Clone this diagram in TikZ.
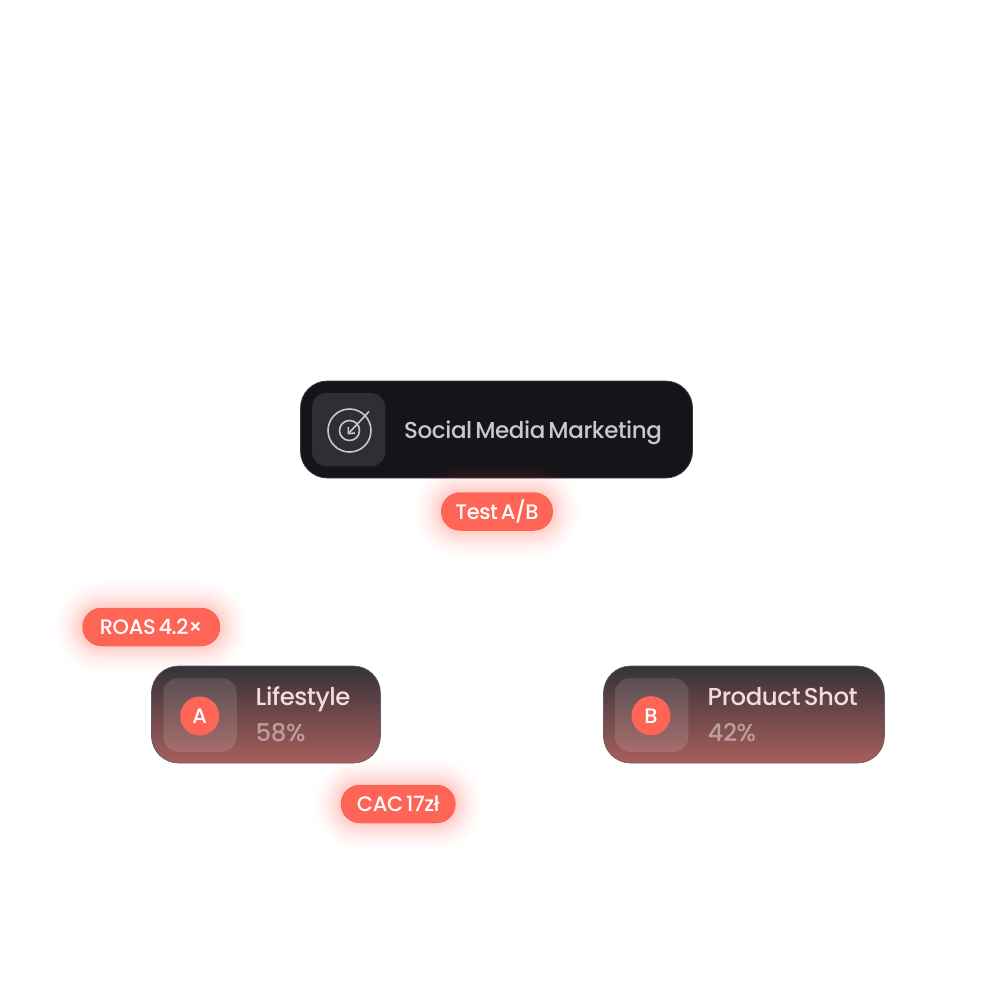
\documentclass[tikz,border=0pt]{standalone}
\usepackage{fontspec}
\setmainfont[UprightFont=* Medium,LetterSpace=-1.8,WordSpace=0.55]{Poppins}
\usepackage{tikz}
\usetikzlibrary{arrows.meta,positioning}
\definecolor{coral}{HTML}{FF6557}
\definecolor{darkcard}{HTML}{151419}
\definecolor{cardedge}{HTML}{3A3A46}
\definecolor{iconbox}{HTML}{302E35}
\definecolor{iconline}{HTML}{C9C8CC}
\definecolor{cardtop}{HTML}{35323A}
\definecolor{cardbottom}{HTML}{A85F5C}
\definecolor{softpink}{HTML}{F4DADA}
\definecolor{softmuted}{HTML}{BC9E9E}
\tikzset{
  pillbox/.style={
    rounded corners=19pt,
    fill=coral,
    text=white,
    minimum height=38.5pt,
    inner sep=0pt,
    font=\fontsize{21}{25}\selectfont,
    preaction={draw=coral,opacity=.012,line width=56pt},
    preaction={draw=coral,opacity=.016,line width=50pt},
    preaction={draw=coral,opacity=.02,line width=44pt},
    preaction={draw=coral,opacity=.026,line width=38pt},
    preaction={draw=coral,opacity=.032,line width=32pt},
    preaction={draw=coral,opacity=.04,line width=26pt},
    preaction={draw=coral,opacity=.05,line width=20pt},
    preaction={draw=coral,opacity=.06,line width=14pt},
    preaction={draw=coral,opacity=.07,line width=8pt}
  },
  gradcard/.style={
    rounded corners=27pt,
    draw=cardtop!80!white,
    line width=.6pt,
    top color=cardtop,
    bottom color=cardbottom,
    minimum height=97pt,
    inner sep=0pt
  },
  iconsquare/.style={
    rounded corners=15pt,
    minimum width=73.5pt,
    minimum height=73.5pt,
    inner sep=0pt
  },
  badgedot/.style={
    circle,
    fill=coral,
    text=white,
    minimum size=39pt,
    inner sep=0pt,
    font=\fontsize{21}{25}\selectfont
  },
  titletext/.style={anchor=base west,inner sep=0pt,font=\fontsize{24.4}{28}\selectfont},
  ringline/.style={circle,draw=iconline,line width=1.6pt,inner sep=0pt}
}
\begin{document}
\begin{tikzpicture}[x=1pt,y=-1pt]
\useasboundingbox (0,0) rectangle (990,990);
% top card
\node[rounded corners=27pt,fill=darkcard,draw=cardedge,line width=.8pt,minimum width=392pt,minimum height=97pt,inner sep=0pt] (social) at (496.5,429.5) {};
\node[iconsquare,fill=iconbox] (socialicon) at (348.7,429.7) {};
\node[ringline,minimum size=43pt] (ringouter) at (349.5,430.5) {};
\node[ringline,minimum size=20pt] (ringinner) at (349.5,430.5) {};
\coordinate (arrowtail) at (369,411.5);
\coordinate (arrowtip) at (347.5,434.5);
\draw[-{Straight Barb[length=5pt,width=9pt]},draw=iconline,line width=1.6pt] (arrowtail) -- (arrowtip);
\node[titletext,text=iconline,font=\fontsize{23}{28}\selectfont] (socialtext) at (404,438.5) {Social Media Marketing};
% pills
\node[pillbox,minimum width=112pt] (testab) at (497,511.5) {Test A/B};
\node[pillbox,minimum width=138pt] (roas) at (151.3,627) {ROAS 4.2×};
\node[pillbox,minimum width=115pt] (cac) at (398.2,804) {CAC 17zł};
% variant A
\node[gradcard,minimum width=229pt] (cardA) at (266,714.5) {};
\node[iconsquare,fill=white,fill opacity=.12] (iconA) at (200,715) {};
\node[badgedot] (dotA) at (199.7,716) {A};
\node[titletext,text=softpink] (nameA) at (255.5,705.5) {Lifestyle};
\node[titletext,text=softmuted] (shareA) at (255.5,741) {58\%};
% variant B
\node[gradcard,minimum width=281pt] (cardB) at (744,714.5) {};
\node[iconsquare,fill=white,fill opacity=.12] (iconB) at (651.7,715) {};
\node[badgedot] (dotB) at (651,715.7) {B};
\node[titletext,text=softpink] (nameB) at (707.5,705.5) {Product Shot};
\node[titletext,text=softmuted] (shareB) at (707.5,741) {42\%};
\end{tikzpicture}
\end{document}
